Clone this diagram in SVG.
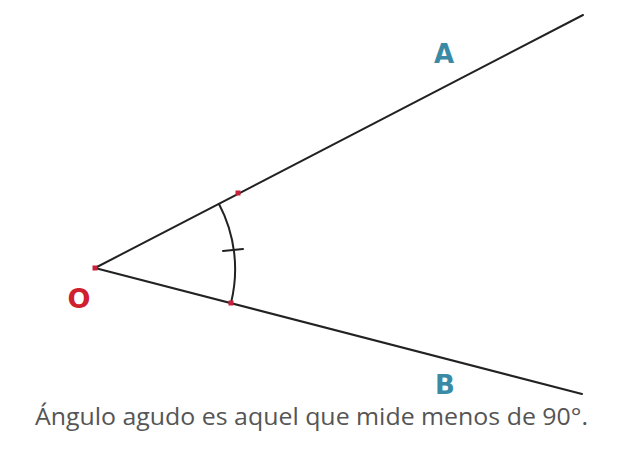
<svg xmlns="http://www.w3.org/2000/svg" width="619" height="450" viewBox="0 0 619 450">
<style>
.ray{stroke:#222;stroke-width:2;fill:none;stroke-linecap:round}
.dot{fill:#c8203a}
.lbl{font-family:"DejaVu Sans","Open Sans",sans-serif;font-weight:bold;fill:#3a8aa6}
</style>
<rect width="619" height="450" fill="#fff"/>
<g id="connectors">
<line class="ray" x1="95" y1="268" x2="583" y2="15"/>
<line class="ray" x1="95" y1="268" x2="582" y2="394"/>
<path class="ray" d="M219,204 A140,140 0 0 1 231,303" stroke-width="2"/>
<line class="ray" x1="223" y1="251" x2="243" y2="249"/>
</g>
<g id="O">
<rect class="dot" x="92.5" y="265.5" width="5" height="5"/>
<text x="79" y="308" font-family="DejaVu Sans, sans-serif" font-weight="bold" font-size="27" fill="#d0202e" text-anchor="middle">O</text>
</g>
<g id="P1"><rect class="dot" x="235.5" y="190.5" width="5" height="5"/></g>
<g id="P2"><rect class="dot" x="228.5" y="300.5" width="5" height="5"/></g>
<g id="A"><text class="lbl" x="444" y="63" font-size="26" text-anchor="middle">A</text></g>
<g id="B"><text class="lbl" x="445" y="394" font-size="26" text-anchor="middle">B</text></g>
<g id="caption">
<text x="35" y="425" font-family="Open Sans, sans-serif" font-size="23" fill="#555" textLength="553" lengthAdjust="spacingAndGlyphs">Ángulo agudo es aquel que mide menos de 90°.</text>
</g>
</svg>
